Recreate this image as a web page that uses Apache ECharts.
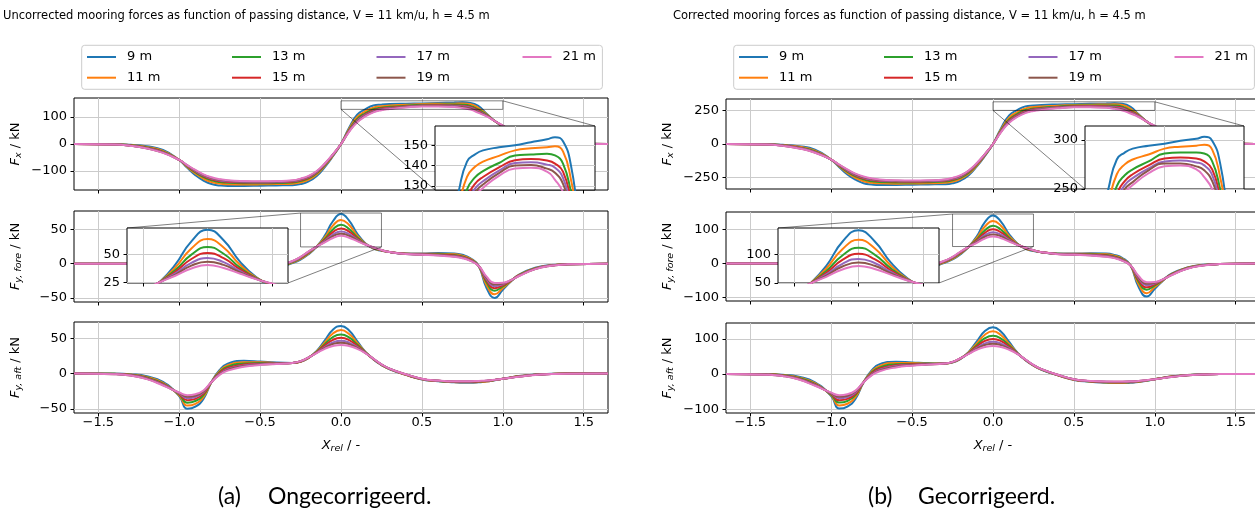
<!DOCTYPE html>
<html lang="nl">
<head>
<meta charset="utf-8" />
<title>Mooring forces vs passing distance</title>
<style type="text/css">
	html, body { margin: 0; padding: 0; background: #fff; }
	#chart { width: 1255px; height: 515px; }
</style>
</head>
<body>
<div id="chart"></div>
<script src="https://cdn.jsdelivr.net/npm/echarts@6/dist/echarts.min.js"></script>
<script>
// relative passing position X_rel
var xRel = [-1.65,-1.4,-1.3,-1.2,-1.1,-1.0,-0.95,-0.9,-0.85,-0.8,-0.75,-0.7,-0.6,-0.5,-0.4,-0.3,-0.25,-0.2,-0.15,-0.1,-0.05,0,0.05,0.1,0.15,0.2,0.25,0.3,0.4,0.5,0.6,0.7,0.75,0.8,0.85,0.9,0.95,1.0,1.05,1.1,1.2,1.3,1.4,1.65];
var names = ['9 m', '11 m', '13 m', '15 m', '17 m', '19 m', '21 m'];
var colors = ['#1f77b4', '#ff7f0e', '#2ca02c', '#d62728', '#9467bd', '#8c564b', '#e377c2'];

// (a) uncorrected, one row per passing distance
var fxUncorr = [
	[0,0,-2.5,-8,-22,-59,-88,-115,-135,-148,-153,-155,-155,-154,-153,-152,-148,-138,-118,-85,-45,0,60,108,128,142,145.5,147.5,149,150,151.5,153,154,152,140,112,85,63,45,28,10,3,1,0],
	[0,-0.6,-3.9,-10.7,-25.3,-59,-85,-109,-128,-140.5,-146,-148.7,-149.6,-149.2,-148.2,-146.6,-142,-132,-112.6,-81,-43,0,55.5,99.6,120.2,134.5,139.4,142,144.8,147.5,148.5,149,149.5,147,133,110,85,64.5,47,31,12.4,4.2,1.3,0],
	[0,-1.1,-5,-13,-28,-59,-82.5,-104.5,-122.4,-134.3,-140.4,-143.5,-145.1,-145.2,-144.2,-142.1,-137,-127,-108.1,-77.9,-41.2,0,51.8,92.6,113.7,128.3,134.2,137.3,141.3,145,145.5,145.8,145,141,127,108,85,65.7,49,33.5,14.4,5.2,1.6,0],
	[0,-1.4,-5.7,-14.4,-29.8,-59,-81,-101.5,-118.7,-130.3,-136.7,-140.1,-142.2,-142.6,-141.6,-139.2,-133.8,-123.8,-105.2,-75.8,-40,0,49.4,88.1,109.5,124.3,131,134.4,139.1,142.6,143.2,142.5,141,137,123,106,85,66.5,50,35,15.7,5.8,1.7,0],
	[0,-1.6,-6.2,-15.4,-31,-59,-80,-99.4,-116.1,-127.5,-134.1,-137.8,-140.2,-140.9,-139.9,-137.2,-131.6,-121.6,-103.2,-74.3,-39.3,0,47.7,85,106.7,121.5,128.7,132.3,137.5,141.3,141.6,140.5,139,134,120,105,85,67,50.7,36,16.6,6.3,1.8,0],
	[0,-1.8,-6.6,-16.2,-32,-59,-79,-97.7,-114.1,-125.3,-132.1,-135.9,-138.6,-139.4,-138.4,-135.6,-129.8,-119.8,-101.6,-73.2,-38.6,0,46.4,82.5,104.3,119.3,126.8,130.7,136.3,140.1,140.3,138.5,136.5,131,118,103.5,85,67.5,51.4,37,17.3,6.6,1.9,0],
	[0,-2,-7,-17,-33,-59,-78,-96,-112,-123,-130,-134,-137,-138,-137,-134,-128,-118,-100,-72,-38,0,45,80,102,117,125,129,135,138.6,139,137,133,127,115,102,85,68,52,38,18,7,2,0]
];
var fyForeUncorr = [
	[0,0,0,-0.5,-1,-2,-2.5,-3,-3.5,-4,-4.5,-5,-6,-7,-6,1,6,14,25,41,62,72.5,63,44,30,22,19,17,15,15,15.5,15,13,8,-3,-36,-50,-38,-26,-16,-6,-2,-1,0],
	[0,0,0,-0.5,-1,-1.9,-2.4,-2.9,-3.4,-3.9,-4.4,-4.9,-5.7,-6.5,-5.2,1.8,7,15,25,38.4,55.6,64,56.5,41.1,29.5,22.5,19.3,17,14.7,14.5,14.6,13.7,11.7,7,-3,-31.5,-44.8,-35.5,-25.5,-16.5,-6.5,-2.3,-1,0],
	[0,0,0,-0.5,-1,-1.8,-2.3,-2.8,-3.3,-3.8,-4.3,-4.8,-5.5,-6,-4.5,2.5,8,16,25,36.1,50,57,50.8,38.6,29,23,19.5,17,14.5,14,13.8,12.6,10.6,6,-3,-27.5,-39.5,-33.2,-25,-17,-7,-2.5,-1,0],
	[0,0,0,-0.5,-1,-1.7,-2.2,-2.7,-3.2,-3.7,-4.2,-4.7,-5.4,-5.7,-4,3,8.6,16.6,25,34.5,46.1,51.5,46.8,36.9,28.7,23.3,19.7,17,14.4,13.7,13.2,11.8,9.8,5.4,-3,-25,-36,-31.5,-24.7,-17.3,-7.3,-2.7,-1,0],
	[0,0,0,-0.5,-1,-1.6,-2.1,-2.6,-3.1,-3.6,-4.1,-4.6,-5.2,-5.4,-3.6,3.4,9.2,17.2,25,33.1,42.6,47,43.3,35.3,28.4,23.6,19.8,17,14.2,13.4,12.7,11,9,4.8,-3,-22.5,-32.8,-30,-24.4,-17.6,-7.6,-2.8,-1,0],
	[0,0,0,-0.5,-1,-1.6,-2.1,-2.6,-3.1,-3.6,-4.1,-4.6,-5.1,-5.2,-3.3,3.7,9.6,17.6,25,32.1,40.2,43.7,40.8,34.2,28.2,23.8,19.9,17,14.1,13.2,12.4,10.6,8.6,4.4,-3,-20.8,-30.5,-29,-24.2,-17.8,-7.8,-2.9,-1,0],
	[0,0,0,-0.5,-1,-1.5,-2,-2.5,-3,-3.5,-4,-4.5,-5,-5,-3,4,10,18,25,31,37.5,40.7,38,33,28,24,20,17,14,13,12,10,8,4,-3,-19,-28.2,-27.8,-24,-18,-8,-3,-1,0]
];
var fyAftUncorr = [
	[0,0,-1,-4,-12,-32,-50,-47,-36,-12,5,14,18,17,15.5,15,16.5,22,32,47,62,67.5,61,46,31,20,12,6,-2,-8.5,-11,-12.5,-13,-13,-12.5,-11.5,-9.5,-7.5,-5.5,-3.5,-1.5,-0.5,0,0],
	[0,-0.2,-1.5,-4.9,-13.2,-30.9,-45.5,-43,-33.2,-12,3.4,11.7,16,15.9,15,15,16.7,22.2,31.3,44.2,56.7,61.5,55.9,43.5,30.5,20.2,12.2,6.2,-1.8,-8.3,-10.8,-12.2,-12.5,-12.5,-12,-11.2,-9.4,-7.5,-5.6,-3.7,-1.6,-0.6,0,0],
	[0,-0.5,-1.9,-5.8,-14.3,-29.8,-41.3,-39,-30.6,-12,1.9,9.5,14.2,14.8,14.6,15,17,22.5,30.7,41.6,51.7,55.2,51.1,41,30.1,20.5,12.5,6.5,-1.6,-8,-10.6,-11.8,-12.1,-12.1,-11.6,-10.8,-9.3,-7.5,-5.7,-4,-1.7,-0.6,-0.1,0],
	[0,-0.6,-2.2,-6.5,-15.1,-28.9,-38,-36,-28.6,-12,0.7,7.8,12.7,13.9,14.3,15,17.1,22.6,30.1,39.6,47.7,50.5,47.4,39.2,29.8,20.6,12.6,6.6,-1.4,-7.9,-10.4,-11.6,-11.8,-11.8,-11.3,-10.6,-9.2,-7.5,-5.8,-4.1,-1.8,-0.7,-0.1,0],
	[0,-0.8,-2.6,-7.1,-15.9,-28.1,-35,-33.3,-26.6,-12,-0.5,6.2,11.4,13.1,14,15,17.3,22.8,29.7,37.6,44.1,46.5,43.8,37.4,29.4,20.8,12.8,6.8,-1.2,-7.7,-10.2,-11.3,-11.4,-11.4,-10.9,-10.3,-9.1,-7.5,-5.9,-4.3,-1.9,-0.7,-0.2,0],
	[0,-0.9,-2.8,-7.5,-16.4,-27.6,-33,-31.5,-25.4,-12,-1.2,5.2,10.5,12.6,13.7,15,17.4,22.9,29.4,36.4,41.8,43.7,41.6,36.3,29.2,20.9,12.9,6.9,-1.1,-7.6,-10.1,-11.2,-11.2,-11.2,-10.7,-10.2,-9.1,-7.5,-5.9,-4.4,-1.9,-0.8,-0.2,0],
	[0,-1,-3,-8,-17,-27,-30.7,-29.3,-24,-12,-2,4,9.5,12,13.5,15,17.5,23,29,35,39,40.5,39,35,29,21,13,7,-1,-7.5,-10,-11,-11,-11,-10.5,-10,-9,-7.5,-6,-4.5,-2,-0.8,-0.2,0]
];

// (b) corrected
var fxCorr = [
	[0,0,-5,-16,-43,-116,-173,-227,-266,-292,-301,-305,-305,-303,-301,-299,-292,-272,-232,-167,-89,0,118,213,252,280,287,291,294,296,299,301,303,299,276,221,167,124,89,55,20,6,2,0],
	[0,-1,-8,-21,-50,-116,-167,-215,-252,-277,-288,-293,-295,-294,-292,-289,-280,-260,-222,-160,-85,0,109,196,237,265,275,280,285,291,293,294,295,290,262,217,167,127,93,61,24,8,3,0],
	[0,-2,-10,-26,-55,-116,-163,-206,-241,-265,-277,-283,-286,-286,-284,-280,-270,-250,-213,-153,-81,0,102,182,224,253,264,270,278,286,287,287,286,278,250,213,167,129,97,66,28,10,3,0],
	[0,-3,-11,-28,-59,-116,-160,-200,-234,-257,-269,-276,-280,-281,-279,-274,-264,-244,-207,-149,-79,0,97,174,216,245,258,265,274,281,282,281,278,270,242,209,167,131,99,69,31,11,3,0],
	[0,-3,-12,-30,-61,-116,-158,-196,-229,-251,-264,-271,-276,-278,-276,-270,-259,-240,-203,-146,-77,0,94,167,210,239,254,261,271,278,279,277,274,264,236,207,167,132,100,71,33,12,4,0],
	[0,-4,-13,-32,-63,-116,-156,-192,-225,-247,-260,-268,-273,-275,-273,-267,-256,-236,-200,-144,-76,0,91,163,205,235,250,257,269,276,276,273,269,258,232,204,167,133,101,73,34,13,4,0],
	[0,-4,-14,-33,-65,-116,-154,-189,-221,-242,-256,-264,-270,-272,-270,-264,-252,-232,-197,-142,-75,0,89,158,201,230,246,254,266,273,274,270,262,250,227,201,167,134,102,75,35,14,4,0]
];
var fyForeCorr = [
	[0,0,0,-1,-2,-4,-5,-6,-7,-8,-9,-10,-12,-14,-12,2,12,27,49,80,122,142,123,86,59,43,37,33,29,29,30,29,25,16,-6,-70,-98,-75,-51,-31,-12,-4,-2,0],
	[0,0,0,-1,-2,-3.7,-4.7,-5.7,-6.7,-7.6,-8.6,-9.6,-11.2,-12.7,-10.2,3.5,13.7,29.4,49,75.3,109,125.4,110.7,80.6,57.8,44.1,37.8,33.3,28.8,28.4,28.6,26.9,22.9,13.7,-5.9,-61.7,-87.8,-69.6,-50,-32.3,-12.7,-4.5,-2,0],
	[0,0,0,-1,-2,-3.5,-4.5,-5.5,-6.5,-7.4,-8.4,-9.4,-10.8,-11.8,-8.8,4.9,15.7,31.4,49,70.8,98,111.7,99.6,75.7,56.8,45.1,38.2,33.3,28.4,27.4,27,24.7,20.8,11.8,-5.9,-53.9,-77.4,-65.1,-49,-33.3,-13.7,-4.9,-2,0],
	[0,0,0,-1,-2,-3.3,-4.3,-5.3,-6.3,-7.3,-8.2,-9.2,-10.6,-11.2,-7.8,5.9,16.9,32.5,49,67.6,90.4,100.9,91.7,72.3,56.3,45.7,38.6,33.3,28.2,26.9,25.9,23.1,19.2,10.6,-5.9,-49,-70.6,-61.7,-48.4,-33.9,-14.3,-5.3,-2,0],
	[0,0,0,-1,-2,-3.1,-4.1,-5.1,-6.1,-7.1,-8,-9,-10.2,-10.6,-7.1,6.7,18,33.7,49,64.9,83.5,92.1,84.9,69.2,55.7,46.3,38.8,33.3,27.8,26.3,24.9,21.6,17.6,9.4,-5.9,-44.1,-64.3,-58.8,-47.8,-34.5,-14.9,-5.5,-2,0],
	[0,0,0,-1,-2,-3.1,-4.1,-5.1,-6.1,-7.1,-8,-9,-10,-10.2,-6.5,7.3,18.8,34.5,49,62.9,78.8,85.7,80,67,55.3,46.6,39,33.3,27.6,25.9,24.3,20.8,16.9,8.6,-5.9,-40.8,-59.8,-56.8,-47.4,-34.9,-15.3,-5.7,-2,0],
	[0,0,0,-1,-2,-2.9,-3.9,-4.9,-5.9,-6.9,-7.8,-8.8,-9.8,-9.8,-5.9,7.8,19.6,35.3,49,60.8,73.5,79.8,74.5,64.7,54.9,47,39.2,33.3,27.4,25.5,23.5,19.6,15.7,7.8,-5.9,-37.2,-55.3,-54.5,-47,-35.3,-15.7,-5.9,-2,0]
];
var fyAftCorr = [
	[0,0,-2,-8,-24,-63,-98.5,-92.6,-71,-24,10,28,35,33,31,30,33,43,63,93,122,133,120,91,61,39,24,12,-4,-17,-22,-25,-26,-26,-25,-23,-19,-15,-11,-7,-3,-1,0,0],
	[0,-0.4,-3,-9.7,-26,-60.9,-89.6,-84.7,-65.4,-23.6,6.7,23,31.5,31.3,29.6,29.6,32.9,43.7,61.7,87.1,111.7,121.2,110.1,85.7,60.1,39.8,24,12.2,-3.5,-16.4,-21.3,-24,-24.6,-24.6,-23.6,-22.1,-18.5,-14.8,-11,-7.3,-3.2,-1.2,0,0],
	[0,-1,-3.7,-11.4,-28.2,-58.7,-81.4,-76.8,-60.3,-23.6,3.7,18.7,28,29.2,28.8,29.6,33.5,44.3,60.5,82,101.8,108.7,100.7,80.8,59.3,40.4,24.6,12.8,-3.2,-15.8,-20.9,-23.2,-23.8,-23.8,-22.9,-21.3,-18.3,-14.8,-11.2,-7.9,-3.3,-1.2,-0.2,0],
	[0,-1.2,-4.3,-12.8,-29.7,-56.9,-74.9,-70.9,-56.3,-23.6,1.4,15.4,25,27.4,28.2,29.6,33.7,44.5,59.3,78,94,99.5,93.4,77.2,58.7,40.6,24.8,13,-2.8,-15.6,-20.5,-22.9,-23.2,-23.2,-22.3,-20.9,-18.1,-14.8,-11.4,-8.1,-3.5,-1.4,-0.2,0],
	[0,-1.6,-5.1,-14,-31.3,-55.4,-69,-65.6,-52.4,-23.6,-1,12.2,22.5,25.8,27.6,29.6,34.1,44.9,58.5,74.1,86.9,91.6,86.3,73.7,57.9,41,25.2,13.4,-2.4,-15.2,-20.1,-22.3,-22.5,-22.5,-21.5,-20.3,-17.9,-14.8,-11.6,-8.5,-3.7,-1.4,-0.4,0],
	[0,-1.8,-5.5,-14.8,-32.3,-54.4,-65,-62,-50,-23.6,-2.4,10.2,20.7,24.8,27,29.6,34.3,45.1,57.9,71.7,82.3,86.1,82,71.5,57.5,41.2,25.4,13.6,-2.2,-15,-19.9,-22.1,-22.1,-22.1,-21.1,-20.1,-17.9,-14.8,-11.6,-8.7,-3.7,-1.6,-0.4,0],
	[0,-2,-5.9,-15.8,-33.5,-53.2,-60.5,-57.7,-47.3,-23.6,-3.9,7.9,18.7,23.6,26.6,29.6,34.5,45.3,57.1,69,76.8,79.8,76.8,69,57.1,41.4,25.6,13.8,-2,-14.8,-19.7,-21.7,-21.7,-21.7,-20.7,-19.7,-17.7,-14.8,-11.8,-8.9,-3.9,-1.6,-0.4,0]
];

// tick labels
var xTicks = [-1.5, -1.0, -0.5, 0, 0.5, 1.0, 1.5];
var yTicksUncorr = [[-100, 0, 100], [-50, 0, 50], [-50, 0, 50]];
var yTicksCorr = [[-250, 0, 250], [-100, 0, 100], [-100, 0, 100]];

var font = 'DejaVu Sans';
var black = '#000';
var gridGrey = '#cbcbcb';
var linkGrey = 'rgba(0,0,0,0.5)';

var panels = [
	{
		title: 'Uncorrected mooring forces as function of passing distance, V = 11 km/u, h = 4.5 m',
		titleX: 3, tag: '(a)', tagX: 218, caption: 'Ongecorrigeerd.', capX: 268,
		left: 74, rows: [[98, 92], [211, 91], [322, 91]],
		data: [fxUncorr, fyForeUncorr, fyAftUncorr],
		yRange: [[-170, 170], [-56, 77], [-56, 73]],
		yTicks: yTicksUncorr,
		insets: [
			{ row: 0, box: [435, 126, 160, 64], xr: [0, 1], yr: [128, 159.5], xt: [0.5], yt: [130, 140, 150], link: 'fx' },
			{ row: 1, box: [127, 228, 161, 55], xr: [-0.25, 0.25], yr: [24.5, 74], xt: [-0.2, 0, 0.2], yt: [25, 50], link: 'fy' }
		]
	},
	{
		title: 'Corrected mooring forces as function of passing distance, V = 11 km/u, h = 4.5 m',
		titleX: 673, tag: '(b)', tagX: 868, caption: 'Gecorrigeerd.', capX: 918,
		left: 726, rows: [[99, 90], [212, 89], [323, 90]],
		data: [fxCorr, fyForeCorr, fyAftCorr],
		yRange: [[-335, 335], [-111, 152], [-111, 145]],
		yTicks: yTicksCorr,
		insets: [
			{ row: 0, box: [1085, 126, 159, 63], xr: [0, 1], yr: [250, 314], xt: [0.5], yt: [250, 300], link: 'fx' },
			{ row: 1, box: [778, 228, 161, 55], xr: [-0.25, 0.25], yr: [50, 146], xt: [-0.2, 0, 0.2], yt: [50, 100], link: 'fy' }
		]
	}
];
var ySubs = ['x', 'y, fore', 'y, aft'];

function fmtY(v) { return v < 0 ? '\u2212' + (-v) : String(v); }
function fmtX(v) { return (v < 0 ? '\u2212' : '') + Math.abs(v).toFixed(1); }

var rich = {
	i: { fontFamily: font, fontSize: 13, fontStyle: 'italic', color: black },
	s: { fontFamily: font, fontSize: 9.5, fontStyle: 'italic', color: black, padding: [7, 0, 0, 0] },
	t: { fontFamily: font, fontSize: 13, color: black }
};

function axis(gi, range, ticks, showLabel, fmt, margin, z) {
	return {
		type: 'value', gridIndex: gi, min: range[0], max: range[1], z: z,
		axisLine: { show: false, onZero: false },
		axisTick: { show: true, length: 3.5, customValues: ticks, lineStyle: { color: black, width: 1 } },
		axisLabel: { show: showLabel, customValues: ticks, formatter: fmt, color: black, fontFamily: font, fontSize: 13, margin: margin },
		splitLine: { show: true, lineStyle: { color: gridGrey, width: 1 } }
	};
}

function lines(gi, rows, z) {
	return rows.map(function (vals, j) {
		return {
			type: 'line', name: names[j], xAxisIndex: gi, yAxisIndex: gi,
			data: xRel.map(function (x, i) { return [x, vals[i]]; }),
			symbol: 'none', smooth: 0.5, clip: true, silent: true, z: z,
			color: colors[j], lineStyle: { width: 2, color: colors[j] }
		};
	});
}

var grid = [], xAxis = [], yAxis = [], series = [], legend = [], title = [];
var legendCols = [['9 m', '11 m'], ['13 m', '15 m'], ['17 m', '19 m'], ['21 m']];
var legendColX = [13, 158, 302.5, 448.5];

panels.forEach(function (p) {
	var mainIdx = [];
	p.rows.forEach(function (r, row) {
		var gi = grid.length;
		mainIdx.push(gi);
		grid.push({ left: p.left, top: r[0], width: 534, height: r[1], show: true, borderColor: black, borderWidth: 1, backgroundColor: 'transparent', outerBoundsMode: 'none', z: 0 });
		var xa = axis(gi, [-1.65, 1.65], xTicks, row === 2, fmtX, 3, 0);
		if (row === 2) {
			xa.name = '{i|X}{s|rel}{t| / -}';
			xa.nameLocation = 'middle';
			xa.nameGap = 24;
			xa.nameTextStyle = { rich: rich };
		}
		xAxis.push(xa);
		var ya = axis(gi, p.yRange[row], p.yTicks[row], true, fmtY, 7, 0);
		ya.name = '{i|F}{s|' + ySubs[row] + '}{t| / kN}';
		ya.nameLocation = 'middle';
		ya.nameGap = 50;
		ya.nameRotate = 90;
		ya.nameTextStyle = { rich: rich };
		yAxis.push(ya);
		series = series.concat(lines(gi, p.data[row], 2));
	});
	p.insets.forEach(function (ins) {
		var gi = grid.length;
		ins.grid = gi;
		ins.main = mainIdx[ins.row];
		grid.push({ left: ins.box[0], top: ins.box[1], width: ins.box[2], height: ins.box[3], show: true, borderColor: black, borderWidth: 1, backgroundColor: '#fff', outerBoundsMode: 'none', z: 10 });
		xAxis.push(axis(gi, ins.xr, ins.xt, false, fmtX, 3, 11));
		yAxis.push(axis(gi, ins.yr, ins.yt, true, fmtY, 7, 11));
		series = series.concat(lines(gi, p.data[ins.row], 12));
	});
	legendCols.forEach(function (col, c) {
		legend.push({
			orient: 'vertical', left: p.left + legendColX[c], top: 50, padding: 0,
			itemWidth: 29, itemHeight: 2, itemGap: 6.7, icon: 'rect', selectedMode: false,
			data: col,
			textStyle: { fontFamily: font, fontSize: 13, color: black, lineHeight: 14, padding: [0, 0, 0, 6] }
		});
	});
	title.push({
		text: p.title, left: p.titleX, top: 10, padding: 0,
		textStyle: { fontFamily: font, fontSize: 11.5, fontWeight: 'normal', color: black }
	});
});

var chart = echarts.init(document.getElementById('chart'));
chart.setOption({
	animation: false,
	backgroundColor: '#fff',
	textStyle: { fontFamily: font },
	title: title,
	legend: legend,
	grid: grid,
	xAxis: xAxis,
	yAxis: yAxis,
	series: series
});

// legend frames, captions, zoom indicators and their connector lines
var gfx = [];
panels.forEach(function (p) {
	gfx.push({ type: 'rect', z: 0, shape: { x: p.left + 7.7, y: 45.3, width: 520.7, height: 44, r: 3 }, style: { fill: '#fff', stroke: '#cccccc', lineWidth: 1 } });
	gfx.push({ type: 'text', x: p.tagX, y: 497, style: { text: p.tag, font: '23px Lato', fill: black, verticalAlign: 'middle' } });
	gfx.push({ type: 'text', x: p.capX, y: 497, style: { text: p.caption, font: '23px Lato', fill: black, verticalAlign: 'middle' } });
	p.insets.forEach(function (ins) {
		var a = chart.convertToPixel({ gridIndex: ins.main }, [ins.xr[0], ins.yr[1]]);
		var b = chart.convertToPixel({ gridIndex: ins.main }, [ins.xr[1], ins.yr[0]]);
		var c = chart.convertToPixel({ gridIndex: ins.grid }, [ins.xr[0], ins.yr[1]]);
		var d = chart.convertToPixel({ gridIndex: ins.grid }, [ins.xr[1], ins.yr[0]]);
		gfx.push({ type: 'rect', z: 5, shape: { x: a[0], y: a[1], width: b[0] - a[0], height: b[1] - a[1] }, style: { fill: 'none', stroke: linkGrey, lineWidth: 1 } });
		var segs = ins.link === 'fx'
			? [[b[0], a[1], d[0], c[1]], [a[0], b[1], c[0], d[1]]]
			: [[a[0], a[1], c[0], c[1]], [b[0], b[1], d[0], d[1]]];
		segs.forEach(function (s) {
			gfx.push({ type: 'line', z: 5, shape: { x1: s[0], y1: s[1], x2: s[2], y2: s[3] }, style: { stroke: linkGrey, lineWidth: 1 } });
		});
	});
});
chart.setOption({ graphic: gfx });
</script>
</body>
</html>
